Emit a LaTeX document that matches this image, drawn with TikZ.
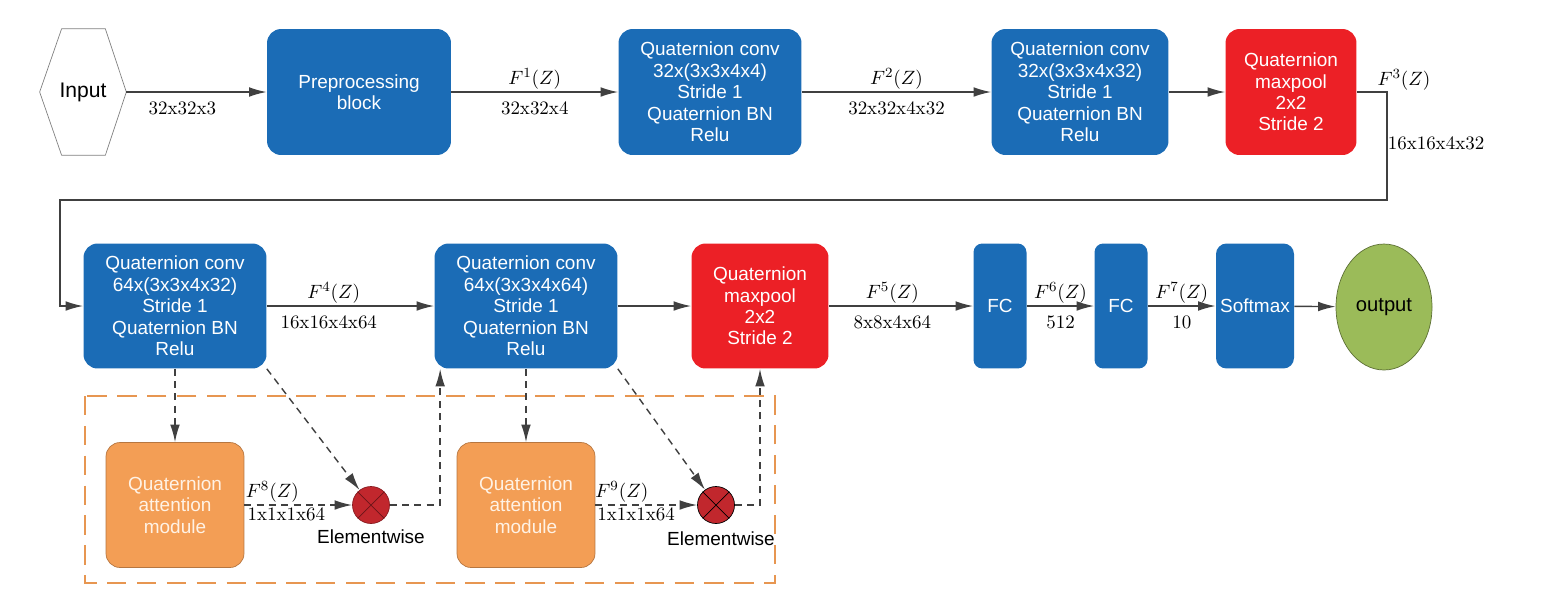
\documentclass[tikz,border=0pt]{standalone}
\usepackage{fontspec}
\setsansfont{Liberation Sans}
\usetikzlibrary{calc,arrows.meta,shapes.geometric}

\definecolor{qblue}{RGB}{27,108,182}
\definecolor{qred}{RGB}{236,32,38}
\definecolor{qorange}{RGB}{243,158,85}
\definecolor{qgreen}{RGB}{155,187,89}
\definecolor{qdark}{RGB}{193,39,45}
\definecolor{qline}{RGB}{64,64,64}

\tikzset{
  blk/.style={rounded corners=8pt, fill=qblue, text=white, align=center,
    font=\sffamily\fontsize{10.8}{12.2}\selectfont, inner sep=0pt},
  pool/.style={blk, fill=qred},
  att/.style={blk, fill=qorange, draw=qorange!75!black, text=white!90!orange},
  lab/.style={font=\fontsize{10.8}{13}\selectfont, inner sep=1pt},
  low/.style={lab, below=4pt},
  flow/.style={draw=qline, line width=0.8pt, -{Latex[length=10pt,width=5.5pt]}},
  side/.style={flow, dash pattern=on 4pt off 3pt},
  mult/.style={circle, fill=qdark, draw=qdark!70!black, minimum size=0.74cm, inner sep=0pt},
  elem/.style={font=\sffamily\fontsize{10.8}{13}\selectfont, inner sep=0pt},
}

\begin{document}
\begin{tikzpicture}[x=0.02cm,y=-0.02cm]
	\useasboundingbox (0,0) rectangle (1546,600);
	% top row
	\node[minimum width=1.72cm, minimum height=2.52cm, font=\sffamily\fontsize{12}{14}\selectfont] (in) at (83,92) {Input};
	\draw[gray] (in.west) -- ($(in.north west)+(22,0)$) -- ($(in.north east)+(-21,0)$) -- (in.east)
		-- ($(in.south east)+(-21,0)$) -- ($(in.south west)+(22,0)$) -- cycle;
	\node[blk, minimum width=3.68cm, minimum height=2.52cm] (pre) at (359,92) {Preprocessing\\block};
	\node[blk, minimum width=3.66cm, minimum height=2.52cm] (c1) at (710,92) {Quaternion conv\\32x(3x3x4x4)\\Stride 1\\Quaternion BN\\Relu};
	\node[blk, minimum width=3.54cm, minimum height=2.52cm] (c2) at (1080,92) {Quaternion conv\\32x(3x3x4x32)\\Stride 1\\Quaternion BN\\Relu};
	\node[pool, minimum width=2.62cm, minimum height=2.52cm] (mp1) at (1291,92) {Quaternion\\maxpool\\2x2\\Stride 2};
	% second row
	\node[blk, minimum width=3.66cm, minimum height=2.5cm] (c3) at (175,306) {Quaternion conv\\64x(3x3x4x32)\\Stride 1\\Quaternion BN\\Relu};
	\node[blk, minimum width=3.66cm, minimum height=2.5cm] (c4) at (526,306) {Quaternion conv\\64x(3x3x4x64)\\Stride 1\\Quaternion BN\\Relu};
	\node[pool, minimum width=2.74cm, minimum height=2.5cm] (mp2) at (760,306) {Quaternion\\maxpool\\2x2\\Stride 2};
	\node[blk, rounded corners=5pt, minimum width=1.06cm, minimum height=2.5cm] (fc1) at (1000,306) {FC};
	\node[blk, rounded corners=5pt, minimum width=1.06cm, minimum height=2.5cm] (fc2) at (1121,306) {FC};
	\node[blk, rounded corners=6pt, minimum width=1.56cm, minimum height=2.5cm] (sm) at (1255,306) {Softmax};
	\node[ellipse, fill=qgreen, draw=qgreen!60!black, minimum width=1.8cm, minimum height=2.52cm,
		font=\sffamily\fontsize{11.5}{14}\selectfont] (out) at (1384,307) {output};
	% attention branch
	\draw[qorange!95!black, line width=1.3pt, dash pattern=on 11pt off 6pt] (85,396) rectangle (775,583);
	\node[att, minimum width=2.76cm, minimum height=2.5cm] (a1) at (175,505) {Quaternion\\attention\\module};
	\node[att, minimum width=2.76cm, minimum height=2.5cm] (a2) at (526,505) {Quaternion\\attention\\module};
	\node[mult] (x1) at (371,505) {};
	\node[mult, draw=black] (x2) at (716,505) {};
	\node[elem] (e1) at (371,537) {Elementwise};
	\node[elem] (e2) at (721,539) {Elementwise};
	\draw[qdark!55!black] (x1.north west) -- (x1.south east) (x1.north east) -- (x1.south west);
	\draw[black] (x2.north west) -- (x2.south east) (x2.north east) -- (x2.south west);

	% connectors
	\draw[flow] (in) -- node[low, pos=0.4] {32x32x3} (pre);
	\draw[flow] (pre) -- node[lab, above] {$F^1(Z)$} node[low] {32x32x4} (c1);
	\draw[flow] (c1) -- node[lab, above] {$F^2(Z)$} node[low] {32x32x4x32} (c2);
	\draw[flow] (c2) -- (mp1);
	\coordinate (bendR) at (1387,200);
	\coordinate (bendL) at (60,200);
	\draw[flow] (mp1.east) -| (bendR) -- (bendL) |- (c3.west);
	\node[lab] (f3) at (1404,80) {$F^3(Z)$};
	\node[lab] (s3) at (1436,143) {16x16x4x32};
	\draw[flow] (c3) -- node[lab, above, pos=0.4] {$F^4(Z)$} node[low, pos=0.37] {16x16x4x64} (c4);
	\draw[flow] (c4) -- (mp2);
	\draw[flow] (mp2) -- node[lab, above, pos=0.44] {$F^5(Z)$} node[low, pos=0.44] {8x8x4x64} (fc1);
	\draw[flow] (fc1) -- node[lab, above] {$F^6(Z)$} node[low] {512} (fc2);
	\draw[flow] (fc2) -- node[lab, above] {$F^7(Z)$} node[low] {10} (sm);
	\draw[flow] (sm) -- (out);
	% dashed branch
	\draw[side] (c3) -- (a1);
	\draw[side] (c3.south east) -- (x1);
	\draw[side] (a1) -- node[lab, above, pos=0.26] {$F^8(Z)$} node[lab, below=0pt, pos=0.39] {1x1x1x64} (x1);
	\draw[side] (x1) -| ($(c4.south west)+(6,0)$);
	\draw[side] (c4) -- (a2);
	\draw[side] (c4.south east) -- (x2);
	\draw[side] (a2) -- node[lab, above, pos=0.26] {$F^9(Z)$} node[lab, below=0pt, pos=0.40] {1x1x1x64} (x2);
	\draw[side] (x2) -| (mp2.south);
\end{tikzpicture}
\end{document}
